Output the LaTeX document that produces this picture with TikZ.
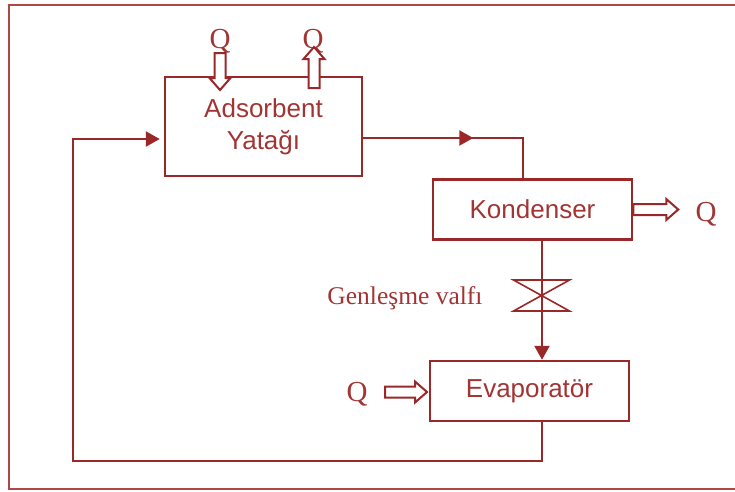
\documentclass[tikz,border=0pt]{standalone}
\usepackage{fontspec}
\setmainfont{Liberation Serif}
\setsansfont{Liberation Sans}
\usetikzlibrary{arrows.meta,calc}

\definecolor{koyukirmizi}{RGB}{155,40,40}
\definecolor{yazikirmizi}{RGB}{162,52,52}
\definecolor{cerceverenk}{RGB}{172,72,72}

\tikzset{
  kutu/.style={draw=koyukirmizi, line width=2.5pt, inner sep=0pt,
    font=\sffamily\fontsize{26}{32}\selectfont, text=yazikirmizi, align=center},
  hat/.style={draw=koyukirmizi, line width=2.5pt},
  ok/.style={hat, -{Triangle[length=14pt,width=15pt]}},
  isi/.style={font=\fontsize{29}{30}\selectfont, text=yazikirmizi, inner sep=0pt, anchor=base},
  etiket/.style={font=\fontsize{25.5}{28}\selectfont, text=yazikirmizi, inner sep=0pt, anchor=base},
  pics/isiok/.style={code={
    \draw[draw=koyukirmizi, line width=2pt, fill=white, line join=miter]
      (0,-5.5) -- ({#1-12},-5.5) -- ({#1-12},-10.5) -- (#1,0) -- ({#1-12},10.5)
      -- ({#1-12},5.5) -- (0,5.5) -- cycle;}}
}

\begin{document}
\begin{tikzpicture}[x=1pt,y=-1pt]

% ---------- Rahmen ----------
\useasboundingbox (0,0) rectangle (735,491);
\draw[cerceverenk, line width=2pt] (9,5) rectangle (745,489);

% ---------- Kutular ----------
\node[kutu, minimum width=197pt, minimum height=99pt] (ads) at (263.5,126.5) {Adsorbent\\Yatağı};
\node[kutu, minimum width=199pt, minimum height=60pt] (kon) at (532.5,209.5) {Kondenser};
\node[kutu, minimum width=199pt, minimum height=60pt] (evap) at (529.5,391) {Evaporatör};

% ---------- Kreislauf ----------
\draw[hat] ([yshift=-11.5pt]ads.east) -| ([xshift=-9.5pt]kon.north);
\draw[ok] ([yshift=-11.5pt]ads.east) -- ++(110,0);

\draw[ok] ([xshift=9.5pt]kon.south) -- ([xshift=9.5pt]kon.south |- evap.north);

\coordinate (donus) at (73,461);
\draw[ok, shorten >=4pt] ([xshift=12.5pt]evap.south) |- (donus) |- ([yshift=-12.5pt]ads.west);

% ---------- Genlesme valfi ----------
\coordinate (valf) at (541.5,295.5);
\begin{scope}[shift={(valf)}]
  \draw[koyukirmizi, line width=1.6pt, line join=miter]
    (-28,-15.5) -- (28,-15.5) -- (-28,15.5) -- (28,15.5) -- cycle;
\end{scope}
\node[etiket] (valfyazi) at (405,304) {Genleşme valfı};

% ---------- Isi akislari ----------
\node[isi] (qgiris) at (220,48) {Q};
\pic[rotate=-90] at (220,53) {isiok=37};
\node[isi] (qcikis) at (313,48) {Q};
\pic[rotate=90] at (314,88) {isiok=41};

\pic at (kon.east) {isiok=45};
\node[isi] (qkon) at (706,221) {Q};

\node[isi] (qevap) at (357,401) {Q};
\pic at (385,392) {isiok=42};

\end{tikzpicture}
\end{document}
